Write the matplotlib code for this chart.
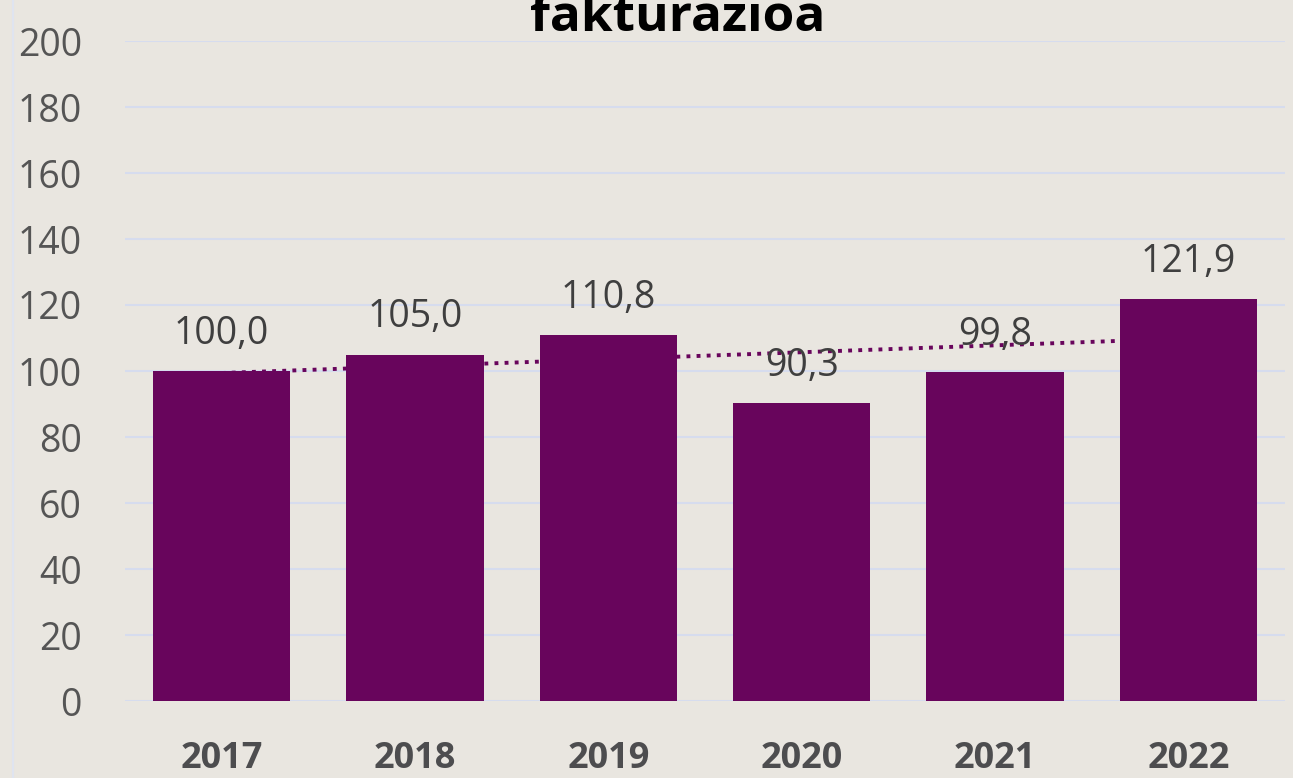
import numpy as np
import matplotlib.pyplot as plt

years = ['2017', '2018', '2019', '2020', '2021', '2022']
values = [100.0, 105.0, 110.8, 90.3, 99.8, 121.9]
labels = ['100,0', '105,0', '110,8', '90,3', '99,8', '121,9']

bg = '#e9e6e0'
bar_color = '#68055c'
grid_color = '#d6dcee'

plt.rcParams['font.family'] = ['Open Sans', 'DejaVu Sans']

fig = plt.figure(figsize=(12.93, 7.78), dpi=100, facecolor=bg)
ax = fig.add_axes([125 / 1293, 77 / 778, 1160 / 1293, 660 / 778])
ax.set_facecolor(bg)

x = np.arange(len(years))

# linear trend line, drawn behind the bars
m, b = np.polyfit(x, values, 1)
ax.plot(x, m * x + b, linestyle=(0, (1, 1.6)), color=bar_color, linewidth=2.8, zorder=2)

ax.bar(x, values, width=0.71, color=bar_color, zorder=3)

for xi, v, lab in zip(x, values, labels):
    ax.annotate(lab, (xi, v), xytext=(0, 13), textcoords='offset points',
                ha='center', va='bottom', fontsize=27, color='#3f3f3f', zorder=4)

ax.set_xlim(-0.5, 5.5)
ax.set_ylim(0, 200)
ax.set_yticks(range(0, 201, 20))
ax.yaxis.grid(True, color=grid_color, linewidth=1.5, zorder=0)
ax.set_axisbelow(True)
ax.set_xticks(x)
ax.set_xticklabels(years, fontsize=26, fontweight='bold', color='#4d4d4f')
ax.tick_params(axis='x', length=0, pad=29)
ax.tick_params(axis='y', length=0, pad=31, labelsize=27, labelcolor='#555555')
for s in ax.spines.values():
    s.set_visible(False)

# title sits partly above the top edge, as in the original crop
fig.text(678 / 1293, 1 - 31 / 778, 'fakturazioa', ha='center', va='baseline',
         fontsize=37, fontweight='bold', color='black')
fig.add_artist(plt.Line2D([13 / 1293, 13 / 1293], [0, 1], color='#dfe4f0', linewidth=1.5))

fig.savefig('out.png', dpi=100, facecolor=bg)
